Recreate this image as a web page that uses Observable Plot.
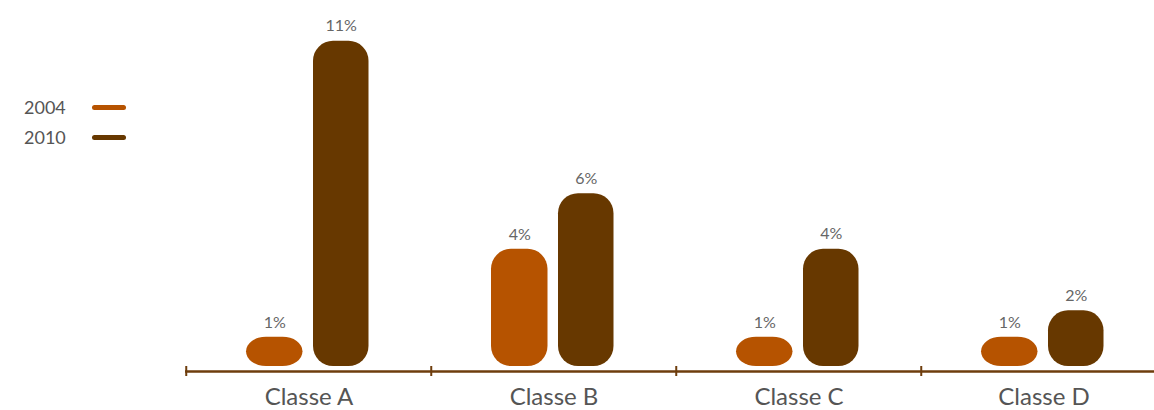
<!DOCTYPE html>
<html>
<head>
<meta charset="utf-8">
<script src="https://cdn.jsdelivr.net/npm/d3@7"></script>
<script src="https://cdn.jsdelivr.net/npm/@observablehq/plot@0.6"></script>
<style>
  html, body { margin: 0; padding: 0; background: #fff; }
  #wrap { position: relative; width: 1154px; height: 410px; overflow: hidden; font-family: Lato, "Open Sans", sans-serif; }
  #legend { position: absolute; left: 0; top: 0; }
  .item { position: absolute; left: 24px; width: 110px; height: 20px; font-size: 18px; color: #555; }
  .item span.lab { position: absolute; left: 0; top: 0; line-height: 20px; }
  .item span.sw { position: absolute; left: 68px; top: 8px; width: 34px; height: 5px; border-radius: 3px; }
</style>
</head>
<body>
<div id="wrap">
  <div id="chart"></div>
  <div id="legend"></div>
</div>
<script>
const categories = ["Classe A", "Classe B", "Classe C", "Classe D"];
const series = ["2004", "2010"];
const values2004 = [1.0, 4.0, 1.0, 1.0];
const values2010 = [11.1, 5.9, 4.0, 1.9];
const labels2004 = ["1%", "4%", "1%", "1%"];
const labels2010 = ["11%", "6%", "4%", "2%"];
const colors = ["#b65300", "#673800"];

const d2004 = categories.map((c, i) => ({cat: c, v: values2004[i], label: labels2004[i]}));
const d2010 = categories.map((c, i) => ({cat: c, v: values2010[i], label: labels2010[i]}));

const bw = 245.5;
const axisColor = "#6e3d0c";

const chart = Plot.plot({
  width: 1154,
  height: 410,
  marginTop: 14.4,
  marginBottom: 44,
  marginLeft: 185,
  marginRight: 0,
  style: {fontFamily: "Lato, 'Open Sans', sans-serif", background: "#fff"},
  x: {domain: categories, range: [185, 185 + 4 * bw], padding: 0, label: null, tickSize: 0, tickPadding: 21},
  y: {domain: [0, 12], axis: null},
  marks: [
    Plot.barY(d2004, {x: "cat", y: "v", fill: colors[0], insetLeft: 60, insetRight: 128.5, rx: 20}),
    Plot.barY(d2010, {x: "cat", y: "v", fill: colors[1], insetLeft: 127, insetRight: 62.5, rx: 20}),
    Plot.text(d2004, {x: "cat", y: "v", text: "label", dx: -34.25, dy: -9, lineAnchor: "bottom", fill: "#666", fontSize: 16}),
    Plot.text(d2010, {x: "cat", y: "v", text: "label", dx: 32.25, dy: -10, lineAnchor: "bottom", fill: "#666", fontSize: 16}),
    Plot.ruleY([0], {dy: 5, stroke: axisColor, strokeWidth: 2.5}),
    Plot.ruleX(categories, {x: d => d, y1: 0, y2: 0, dx: -bw / 2, dy: 5, insetTop: -5, insetBottom: -5, stroke: axisColor, strokeWidth: 2})
  ]
});
chart.querySelectorAll("g[aria-label='x-axis'] text, g[aria-label='x-axis tick label'] text").forEach(t => {
  t.setAttribute("font-size", "24");
  t.setAttribute("fill", "#555");
});
const axisG = chart.querySelector("g[aria-label='x-axis']") || chart.querySelector("g[aria-label='x-axis tick label']");
if (axisG) { axisG.setAttribute("font-size", "24"); axisG.setAttribute("fill", "#555"); }
document.getElementById("chart").appendChild(chart);

const legend = document.getElementById("legend");
const tops = [97, 127];
series.forEach((s, i) => {
  const it = document.createElement("div");
  it.className = "item";
  it.style.top = tops[i] + "px";
  it.innerHTML = `<span class="lab">${s}</span><span class="sw" style="background:${colors[i]}"></span>`;
  legend.appendChild(it);
});
</script>
</body>
</html>
